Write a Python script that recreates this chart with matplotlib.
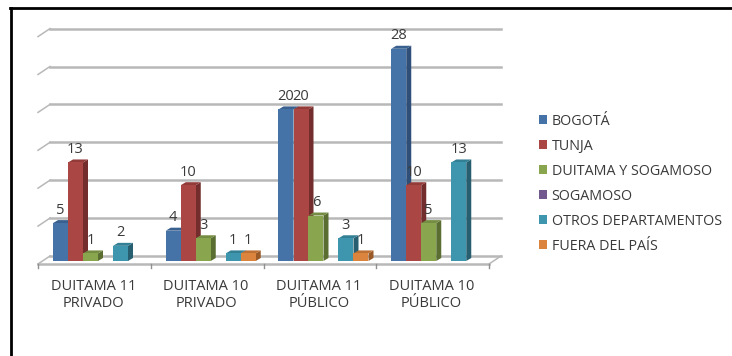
import matplotlib
matplotlib.use('Agg')
import matplotlib.pyplot as plt
from matplotlib.patches import Patch

categorias = ['DUITAMA 11\nPRIVADO', 'DUITAMA 10\nPRIVADO', 'DUITAMA 11\nPÚBLICO', 'DUITAMA 10\nPÚBLICO']
series = ['BOGOTÁ', 'TUNJA', 'DUITAMA Y SOGAMOSO', 'SOGAMOSO', 'OTROS DEPARTAMENTOS', 'FUERA DEL PAÍS']
bogota = [5, 4, 20, 28]
tunja = [13, 10, 20, 10]
duitama_sogamoso = [1, 3, 6, 5]
sogamoso = [0, 0, 0, 0]
otros = [2, 1, 3, 13]
fuera = [0, 1, 1, 0]
valores = [bogota, tunja, duitama_sogamoso, sogamoso, otros, fuera]
grid_vals = [0, 5, 10, 15, 20, 25, 30]

colores = ['#4572A7', '#AA4643', '#89A54E', '#71588F', '#3D96AE', '#DB843D']
laterales = ['#2F4F78', '#722D2C', '#5A6E32', '#4E3D64', '#275F70', '#9A5A28']
tapas = ['#3A6090', '#933B39', '#758D42', '#614C7B', '#337F94', '#BC7033']
gris = '#B8B8B8'
texto = '#3A3A3A'

plt.rcParams['font.family'] = ['Open Sans', 'DejaVu Sans']

W, H = 732, 356
px_x = 451 / 4        # pixeles por categoria
px_y = 7.58           # pixeles por unidad
fig = plt.figure(figsize=(W / 100, H / 100), dpi=100)
ax = fig.add_axes([38 / W, (H - 264) / H, 451 / W, 264 / H])
ax.set_xlim(0, 4)
ax.set_ylim(-3 / px_y, 261 / px_y)
ax.axis('off')

# Paredes: lineas del fondo y piso
dx_fondo = 12 / px_x
dy_fondo = 5 / px_y
dy_piso = 8 / px_y
piso = -3 / px_y
for g in grid_vals:
    y = g + dy_fondo
    ax.plot([dx_fondo, 4 + dx_fondo], [y, y], color=gris, lw=1.8, clip_on=False, zorder=1)
    ax.plot([0, dx_fondo], [y - dy_piso, y], color=gris, lw=1.1, clip_on=False, zorder=1)
ax.plot([0, 4], [piso, piso], color=gris, lw=1.8, clip_on=False, zorder=1)
ax.plot([4, 4 + dx_fondo], [piso, piso + dy_piso], color=gris, lw=1.1, clip_on=False, zorder=1)
for i in range(5):
    ax.plot([i, i], [piso, piso - 4 / px_y], color='#909090', lw=1, clip_on=False, zorder=1)

# Barras con cara lateral y tapa
ancho = 15 / px_x
dx = 5 / px_x
dy = 3 / px_y
z = 2
for c in range(len(categorias)):
    for s in range(len(series)):
        v = valores[s][c]
        if v == 0:
            continue
        x0 = c + ancho * (s + 1)
        x1 = x0 + ancho
        ax.fill([x1, x1 + dx, x1 + dx, x1], [0, dy, v + dy, v], color=laterales[s], lw=0, zorder=z, clip_on=False)
        ax.fill([x0, x0 + dx, x1 + dx, x1], [v, v + dy, v + dy, v], color=tapas[s], lw=0, zorder=z, clip_on=False)
        ax.bar(x0, v, width=ancho, align='edge', color=colores[s], lw=0, zorder=z + 0.5)
        z += 1
        ax.text(x0 + ancho / 2, v + 13 / px_y, str(v), ha='center', va='center', fontsize=10.5,
                color=texto, zorder=100, clip_on=False)

for c, etiqueta in enumerate(categorias):
    ax.text(c + 0.49, -34 / px_y, etiqueta, ha='center', va='center', fontsize=10.5,
            color=texto, linespacing=1.15, clip_on=False)

# Leyenda
handles = [Patch(color=col, lw=0) for col in colores]
fig.legend(handles, series, loc='upper left', bbox_to_anchor=(533 / W, 1 - 108 / H),
           frameon=False, fontsize=10.3, labelcolor=texto, handlelength=0.55, handleheight=0.55,
           handletextpad=0.35, labelspacing=0.70, borderpad=0.4, borderaxespad=0)

# Marco negro de la imagen
fig.add_artist(plt.Line2D([11 / W, 11 / W], [0, 1 - 8 / H], color='black', lw=2))
fig.add_artist(plt.Line2D([10 / W, 1], [1 - 8 / H, 1 - 8 / H], color='black', lw=2))

fig.savefig('out.png', dpi=100)
